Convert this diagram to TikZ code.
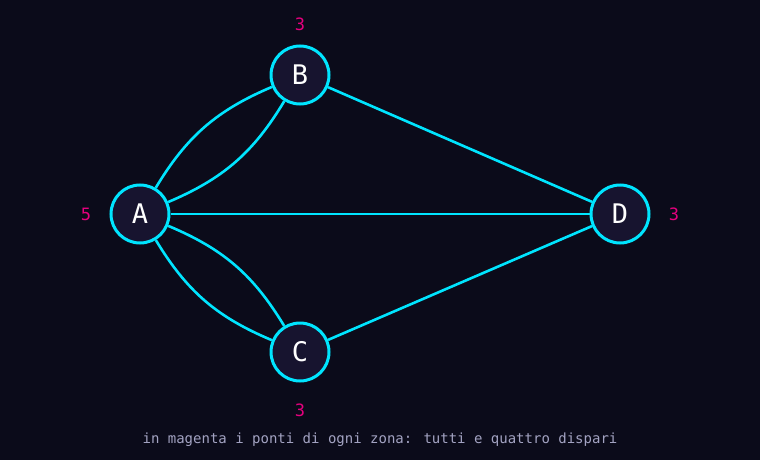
\documentclass[tikz,border=0pt]{standalone}
\usepackage{fontspec}
\setmainfont{DejaVu Sans Mono}
\usepackage{tikz}
\usetikzlibrary{arrows,shapes}
\pgfdeclarelayer{background}
\pgfsetlayers{background,main}
\definecolor{bg}{HTML}{0B0B1A}
\definecolor{nodefill}{HTML}{17142F}
\definecolor{bridge}{HTML}{00E5FF}
\definecolor{odd}{HTML}{E6007E}
\definecolor{note}{HTML}{A3A3C2}
\tikzstyle{vertex}=[circle,draw=bridge,line width=3pt,fill=nodefill,minimum size=58pt,inner sep=0pt,text=white,font=\fontsize{27}{27}\selectfont]
\tikzstyle{degree} = [text=odd,font=\fontsize{17}{17}\selectfont]
\tikzstyle{edge} = [draw=bridge,line width=2.6pt,-]

\begin{document}
\begin{tikzpicture}[x=1pt,y=-1pt]
    % Draw the four zones
    % First we draw the vertices
    \foreach \pos/\name in {{(140,214)/A}, {(300,75)/B}, {(300,352)/C}, {(620,214)/D}}
        \node[vertex] (\name) at \pos {\name};

    % Connect zones with bridges
    \begin{pgfonlayer}{background}
    \fill[bg] (0,0) rectangle (760,460);
    \path[edge] (A) to[bend left=18] (B);
    \path[edge] (A) to[bend right=18] (B);
    \path[edge] (A) to[bend left=18] (C);
    \path[edge] (A) to[bend right=18] (C);
    \foreach \source/ \dest in {A/D, B/D, C/D}
        \path[edge] (\source) -- (\dest) ;
    \end{pgfonlayer}

    % Number of bridges per zone
    \foreach \pos/\name/\val in {{(86,214)/dA/5}, {(300,24)/dB/3}, {(300,410)/dC/3}, {(674,214)/dD/3}}
        \node[degree] (\name) at \pos {\val};

    \node[text=note,font=\fontsize{14}{14}\selectfont] (caption) at (380,440) {in magenta i ponti di ogni zona: tutti e quattro dispari};
\end{tikzpicture}
\end{document}
